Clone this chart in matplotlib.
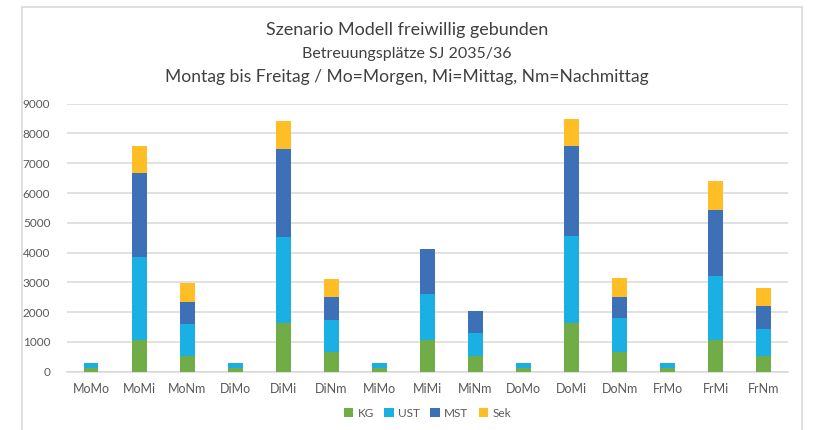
import numpy as np
import matplotlib
matplotlib.use("Agg")
import matplotlib.pyplot as plt
from matplotlib.patches import Rectangle

plt.rcParams['font.family'] = ['Lato', 'DejaVu Sans']

## Daten
kategorien = ['MoMo', 'MoMi', 'MoNm', 'DiMo', 'DiMi', 'DiNm', 'MiMo', 'MiMi', 'MiNm',
              'DoMo', 'DoMi', 'DoNm', 'FrMo', 'FrMi', 'FrNm']
kg  = [130, 1080, 530, 130, 1620, 660, 130, 1080, 530, 130, 1620, 660, 130, 1080, 530]
ust = [160, 2780, 1085, 160, 2910, 1090, 160, 1540, 770, 160, 2950, 1140, 160, 2150, 920]
mst = [0, 2800, 720, 0, 2960, 775, 0, 1500, 730, 0, 3000, 720, 0, 2210, 750]
sek = [0, 920, 650, 0, 920, 595, 0, 0, 0, 0, 920, 640, 0, 975, 600]

serien = [('KG', kg, '#70AD47'), ('UST', ust, '#1AB0E4'),
          ('MST', mst, '#3C71B8'), ('Sek', sek, '#FFBE26')]

fig = plt.figure(figsize=(8.14, 4.30), dpi=100)
ax = fig.add_axes([0.0823, 0.1356, 0.8857, 0.6232])

## Rahmen um das Diagramm
fig.patches.append(Rectangle((22 / 814, -0.05), 780 / 814, 1 - 7 / 430 + 0.05,
                             transform=fig.transFigure, fill=False,
                             edgecolor='#d9d9d9', linewidth=1.2))

x = np.arange(len(kategorien))
unten = np.zeros(len(kategorien))
for name, werte, farbe in serien:
    ax.bar(x, werte, width=0.31, bottom=unten, color=farbe, label=name, zorder=3)
    unten += np.array(werte)

ax.set_xlim(-0.5, len(kategorien) - 0.5)
ax.set_ylim(0, 9000)
ax.set_yticks(range(0, 9001, 1000))
ax.set_xticks(x)
ax.set_xticklabels(kategorien)
ax.tick_params(axis='both', length=0, labelsize=8.5, labelcolor='#595959')
ax.tick_params(axis='x', pad=8, labelsize=9)
ax.tick_params(axis='y', pad=12)
ax.grid(axis='y', color='#d9d9d9', linewidth=1.1, zorder=0)
for s in ['top', 'right', 'left']:
    ax.spines[s].set_visible(False)
ax.spines['bottom'].set_color('#d9d9d9')
ax.spines['bottom'].set_linewidth(1.1)

## Titel
fig.text(0.5, 1 - 30 / 430, 'Szenario Modell freiwillig gebunden', ha='center', va='center',
         fontsize=13, color='#404040')
fig.text(0.5, 1 - 54 / 430, 'Betreuungsplätze SJ 2035/36', ha='center', va='center',
         fontsize=11.5, color='#404040')
fig.text(0.5, 1 - 77 / 430, 'Montag bis Freitag / Mo=Morgen, Mi=Mittag, Nm=Nachmittag',
         ha='center', va='center', fontsize=12.6, color='#404040')

ax.legend(loc='center', bbox_to_anchor=(0.5, -0.155), ncol=4, frameon=False,
          fontsize=8.5, handlelength=0.8, handleheight=0.8, columnspacing=0.9,
          handletextpad=0.35, labelcolor='#595959')

fig.savefig('out.png', dpi=100)
